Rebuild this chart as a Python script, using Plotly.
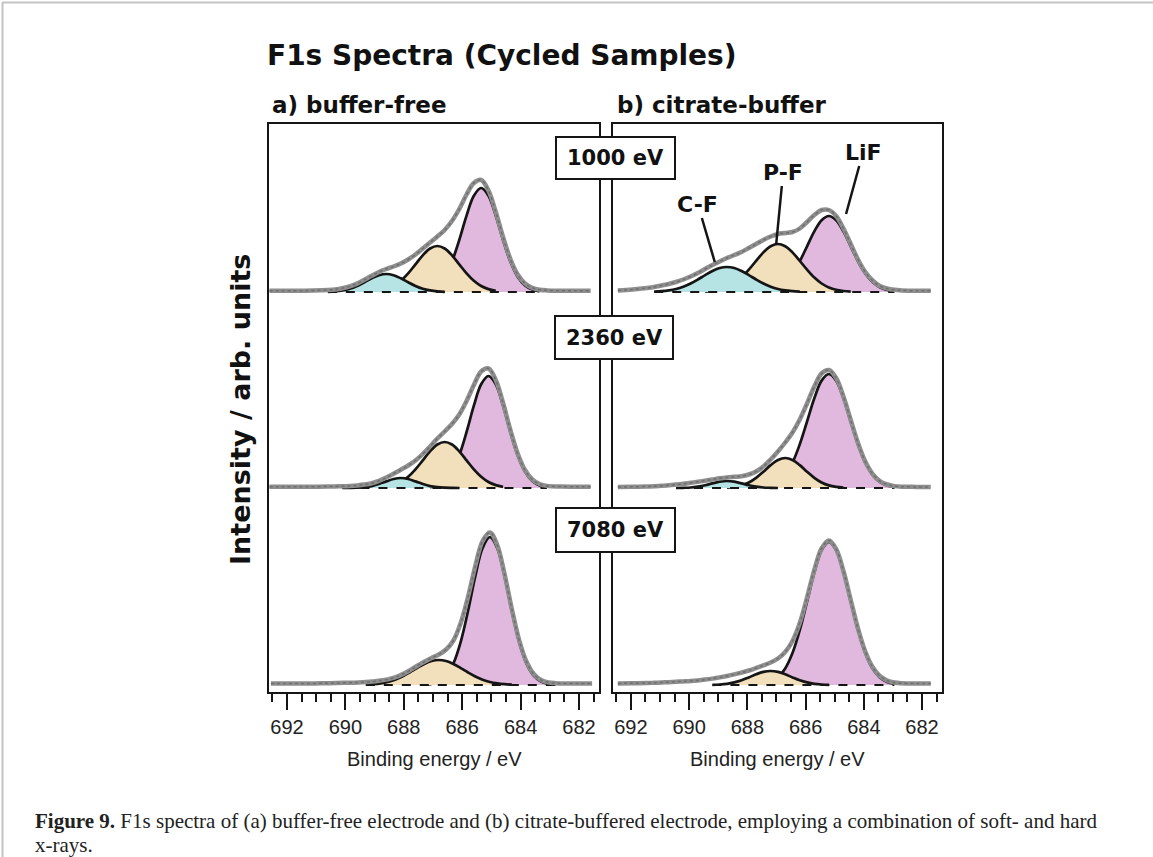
import plotly.graph_objects as go

# ---------------- data ----------------
# Binding energy grids (eV) and intensities (arb. units) for each spectrum.
# Row 1: 1000 eV, Row 2: 2360 eV, Row 3: 7080 eV ; L = buffer-free, R = citrate-buffer

# ---- buffer-free, 1000 eV
L1_CF_E = [690.6, 690.35, 690.1, 689.85, 689.6, 689.35, 689.1, 688.85, 688.6, 688.35, 688.1, 687.85, 687.6, 687.35, 687.1, 686.85, 686.6]
L1_CF_I = [0.2, 0.6, 1.6, 3.3, 6.1, 9.8, 13.7, 16.8, 18.0, 16.8, 13.7, 9.8, 6.1, 3.3, 1.6, 0.6, 0.2]
L1_PF_E = [688.85, 688.6, 688.35, 688.1, 687.85, 687.6, 687.35, 687.1, 686.85, 686.6, 686.35, 686.1, 685.85, 685.6, 685.35, 685.1, 684.85]
L1_PF_I = [1.2, 2.9, 6.0, 11.2, 18.6, 27.6, 36.7, 43.5, 46.0, 43.5, 36.7, 27.6, 18.6, 11.2, 6.0, 2.9, 1.2]
L1_LIF_E = [687.35, 687.1, 686.85, 686.6, 686.35, 686.1, 685.85, 685.6, 685.35, 685.1, 684.85, 684.6, 684.35, 684.1, 683.85, 683.6, 683.35]
L1_LIF_I = [0.7, 2.4, 6.5, 15.2, 30.4, 52.0, 76.4, 96.3, 104, 96.3, 76.4, 52.0, 30.4, 15.2, 6.5, 2.4, 0.7]
L1_DATA_E = [692.6, 692.1, 691.6, 691.1, 690.6, 690.35, 690.1, 689.85, 689.6, 689.35, 689.1, 688.85, 688.6, 688.35, 688.1,
             687.85, 687.6, 687.35, 687.1, 686.85, 686.6, 686.35, 686.1, 685.85, 685.6, 685.35, 685.1, 684.85, 684.6, 684.35,
             684.1, 683.85, 683.6, 683.35, 683.1, 682.6, 682.1, 681.6]
L1_DATA_I = [1.2, 1.2, 1.3, 1.5, 2.0, 2.6, 3.8, 5.6, 8.4, 12.2, 16.2, 20.0, 23.0, 25.5, 28.5,
             32.5, 37.5, 43.5, 49.5, 55.5, 62, 71, 83, 97.5, 109, 112, 101.5, 80, 55, 33,
             17.5, 8.5, 4.2, 2.3, 1.6, 1.3, 1.2, 1.2]

# ---- buffer-free, 2360 eV
L2_CF_E = [690.1, 689.85, 689.6, 689.35, 689.1, 688.85, 688.6, 688.35, 688.1, 687.85, 687.6, 687.35, 687.1, 686.85, 686.6, 686.35, 686.1]
L2_CF_I = [0.0, 0.1, 0.3, 0.8, 1.9, 4.0, 6.6, 9.0, 10.0, 9.0, 6.6, 4.0, 1.9, 0.8, 0.3, 0.1, 0.0]
L2_PF_E = [688.6, 688.35, 688.1, 687.85, 687.6, 687.35, 687.1, 686.85, 686.6, 686.35, 686.1, 685.85, 685.6, 685.35, 685.1, 684.85, 684.6]
L2_PF_I = [1.2, 2.9, 6.0, 11.2, 18.6, 27.6, 36.7, 43.5, 46.0, 43.5, 36.7, 27.6, 18.6, 11.2, 6.0, 2.9, 1.2]
L2_LIF_E = [687.1, 686.85, 686.6, 686.35, 686.1, 685.85, 685.6, 685.35, 685.1, 684.85, 684.6, 684.35, 684.1, 683.85, 683.6, 683.35, 683.1]
L2_LIF_I = [0.8, 2.6, 7.0, 16.4, 32.7, 56.0, 82.3, 103.7, 112, 103.7, 82.3, 56.0, 32.7, 16.4, 7.0, 2.6, 0.8]
L2_DATA_E = L1_DATA_E
L2_DATA_I = [1.2, 1.2, 1.2, 1.3, 1.5, 1.6, 1.8, 2.1, 2.6, 3.4, 4.8, 7.2, 10.4, 14.3, 18.3,
             22.5, 27.5, 34, 41.5, 49.5, 56.5, 64, 73.5, 87, 103, 116.5, 119.5, 108, 85, 58,
             34.5, 18, 8.5, 4, 2.1, 1.4, 1.2, 1.2]

# ---- buffer-free, 7080 eV
L3_PF_E = [689.3, 689.05, 688.8, 688.55, 688.3, 688.05, 687.8, 687.55, 687.3, 687.05, 686.8, 686.55, 686.3, 686.05, 685.8, 685.55, 685.3, 685.05, 684.8, 684.55, 684.3]
L3_PF_I = [0.3, 0.8, 1.6, 3.0, 5.3, 8.5, 12.5, 16.9, 21.0, 24.0, 25, 24.0, 21.0, 16.9, 12.5, 8.5, 5.3, 3.0, 1.6, 0.8, 0.3]
L3_LIF_E = [687.3, 687.05, 686.8, 686.55, 686.3, 686.05, 685.8, 685.55, 685.3, 685.05, 684.8, 684.55, 684.3, 684.05, 683.8, 683.55, 683.3, 683.05, 682.8]
L3_LIF_I = [0.3, 1.1, 3.4, 9.3, 21.6, 43.2, 74.0, 108.8, 137.0, 148, 137.0, 108.8, 74.0, 43.2, 21.6, 9.3, 3.4, 1.1, 0.3]
L3_DATA_E = [692.55, 692.05, 691.55, 691.05, 690.55, 690.05, 689.55, 689.3, 689.05, 688.8, 688.55, 688.3, 688.05, 687.8, 687.55,
             687.3, 687.05, 686.8, 686.55, 686.3, 686.05, 685.8, 685.55, 685.3, 685.05, 684.8, 684.55, 684.3, 684.05, 683.8,
             683.55, 683.3, 683.05, 682.8, 682.55, 682.05, 681.55]
L3_DATA_I = [1.5, 1.5, 1.5, 1.6, 1.8, 2.2, 2.6, 3.0, 3.6, 4.4, 5.6, 7.6, 10.6, 14.5, 19.0,
             23.2, 27.0, 30.5, 35.5, 44.5, 62, 88, 119, 144, 152.5, 140, 111, 76, 45, 23.5,
             11, 5, 2.6, 1.8, 1.5, 1.5, 1.5]

# ---- citrate-buffer, 1000 eV
R1_CF_E = [691.2, 690.95, 690.7, 690.45, 690.2, 689.95, 689.7, 689.45, 689.2, 688.95, 688.7, 688.45, 688.2, 687.95, 687.7, 687.45, 687.2, 686.95, 686.7, 686.45, 686.2]
R1_CF_I = [0.3, 0.8, 1.6, 3.0, 5.3, 8.5, 12.5, 16.9, 21.0, 24.0, 25, 24.0, 21.0, 16.9, 12.5, 8.5, 5.3, 3.0, 1.6, 0.8, 0.3]
R1_PF_E = [689.45, 689.2, 688.95, 688.7, 688.45, 688.2, 687.95, 687.7, 687.45, 687.2, 686.95, 686.7, 686.45, 686.2, 685.95, 685.7, 685.45, 685.2, 684.95, 684.7, 684.45]
R1_PF_I = [0.4, 1.0, 2.2, 4.6, 8.5, 14.4, 22.3, 31.2, 39.6, 45.7, 48, 45.7, 39.6, 31.2, 22.3, 14.4, 8.5, 4.6, 2.2, 1.0, 0.4]
R1_LIF_E = [687.45, 687.2, 686.95, 686.7, 686.45, 686.2, 685.95, 685.7, 685.45, 685.2, 684.95, 684.7, 684.45, 684.2, 683.95, 683.7, 683.45, 683.2, 682.95]
R1_LIF_I = [0.8, 2.0, 4.8, 9.9, 18.5, 30.7, 45.7, 60.6, 71.8, 76, 71.8, 60.6, 45.7, 30.7, 18.5, 9.9, 4.8, 2.0, 0.8]
R1_DATA_E = [692.45, 691.95, 691.45, 691.2, 690.95, 690.7, 690.45, 690.2, 689.95, 689.7, 689.45, 689.2, 688.95, 688.7, 688.45,
             688.2, 687.95, 687.7, 687.45, 687.2, 686.95, 686.7, 686.45, 686.2, 685.95, 685.7, 685.45, 685.2, 684.95, 684.7,
             684.45, 684.2, 683.95, 683.7, 683.45, 683.2, 682.95, 682.7, 682.2, 681.7]
R1_DATA_I = [1.5, 2.5, 4, 5, 6.5, 8, 10, 12.5, 15.5, 19, 23, 27, 30.5, 34, 37,
             40, 44, 48, 52, 55.5, 58, 59, 60, 63.5, 70, 77, 82, 82, 76, 63.5,
             48, 32.5, 20, 11.5, 6, 3.5, 2.2, 1.6, 1.2, 1.2]

# ---- citrate-buffer, 2360 eV
R2_CF_E = [690.45, 690.2, 689.95, 689.7, 689.45, 689.2, 688.95, 688.7, 688.45, 688.2, 687.95, 687.7, 687.45, 687.2, 686.95]
R2_CF_I = [0.0, 0.2, 0.5, 1.4, 2.8, 4.6, 6.3, 7, 6.3, 4.6, 2.8, 1.4, 0.5, 0.2, 0.0]
R2_PF_E = [688.7, 688.45, 688.2, 687.95, 687.7, 687.45, 687.2, 686.95, 686.7, 686.45, 686.2, 685.95, 685.7, 685.45, 685.2, 684.95, 684.7]
R2_PF_I = [0.4, 1.1, 2.6, 5.5, 10.2, 16.3, 22.9, 28.0, 30, 28.0, 22.9, 16.3, 10.2, 5.5, 2.6, 1.1, 0.4]
R2_LIF_E = R1_LIF_E
R2_LIF_I = [0.9, 2.5, 6.0, 13.2, 25.4, 43.7, 66.5, 89.7, 107.4, 114, 107.4, 89.7, 66.5, 43.7, 25.4, 13.2, 6.0, 2.5, 0.9]
R2_DATA_E = R1_DATA_E
R2_DATA_I = [1, 1.2, 1.5, 1.8, 2.2, 2.8, 3.4, 4.2, 5.2, 6.2, 7.3, 8.5, 9.7, 10.6, 11.2,
             11.8, 13.5, 16.5, 21.5, 28.5, 36.5, 45.5, 55.5, 68.5, 84.5, 101.5, 114.5, 118, 110, 91.5,
             68, 45, 26.5, 14.2, 7, 3.5, 1.9, 1.3, 1.1, 1]

# ---- citrate-buffer, 7080 eV
R3_PF_E = [689.2, 688.95, 688.7, 688.45, 688.2, 687.95, 687.7, 687.45, 687.2, 686.95, 686.7, 686.45, 686.2, 685.95, 685.7, 685.45, 685.2]
R3_PF_I = [0.2, 0.5, 1.2, 2.6, 4.7, 7.6, 10.7, 13.1, 14, 13.1, 10.7, 7.6, 4.7, 2.6, 1.2, 0.5, 0.2]
R3_LIF_E = R1_LIF_E
R3_LIF_I = [1.1, 3.1, 7.6, 16.5, 31.9, 54.8, 83.4, 112.5, 134.7, 143, 134.7, 112.5, 83.4, 54.8, 31.9, 16.5, 7.6, 3.1, 1.1]
R3_DATA_E = R1_DATA_E
R3_DATA_I = [1.5, 1.8, 2.0, 2.2, 2.5, 2.8, 3.2, 3.6, 4.0, 4.6, 5.4, 6.4, 7.6, 9.0, 10.6,
             12.4, 14.5, 17, 19.6, 22.5, 26.5, 33, 44, 62, 87.5, 115, 136.5, 144.5, 136, 114,
             85, 56.5, 33.5, 18, 9, 4.5, 2.5, 1.8, 1.5, 1.5]

PHOTON_ENERGIES = ["1000 eV", "2360 eV", "7080 eV"]
PANEL_TITLES = ["a) buffer-free", "b) citrate-buffer"]
PEAK_LABELS = ["C-F", "P-F", "LiF"]
X_TICKS = [692, 690, 688, 686, 684, 682]
CAPTION_LINES = ["<b>Figure 9.</b> F1s spectra of (a) buffer-free electrode and (b) citrate-buffered electrode, "
                 "employing a combination of soft- and hard", "x-rays."]

# ---------------- layout helpers ----------------
W, H = 1153, 857
def xp(px): return px / W
def yp(py): return 1 - py / H

ROWS_PX = [(123, 300), (300, 496), (496, 693)]
COLS_PX = [(268, 600), (612, 943)]
X_RANGE = [692.65, 681.28]
BASE_OFF = 8

COL_LIF = "#e2b9de"
COL_PF = "#f2dfbc"
COL_CF = "#b6e3e3"
INK = "#151515"
GREY = "#8e8e8e"

panels = {
    (0, 0): dict(data=(L1_DATA_E, L1_DATA_I), comps=[(L1_LIF_E, L1_LIF_I, COL_LIF), (L1_PF_E, L1_PF_I, COL_PF), (L1_CF_E, L1_CF_I, COL_CF)]),
    (1, 0): dict(data=(L2_DATA_E, L2_DATA_I), comps=[(L2_LIF_E, L2_LIF_I, COL_LIF), (L2_PF_E, L2_PF_I, COL_PF), (L2_CF_E, L2_CF_I, COL_CF)]),
    (2, 0): dict(data=(L3_DATA_E, L3_DATA_I), comps=[(L3_LIF_E, L3_LIF_I, COL_LIF), (L3_PF_E, L3_PF_I, COL_PF)]),
    (0, 1): dict(data=(R1_DATA_E, R1_DATA_I), comps=[(R1_LIF_E, R1_LIF_I, COL_LIF), (R1_PF_E, R1_PF_I, COL_PF), (R1_CF_E, R1_CF_I, COL_CF)]),
    (1, 1): dict(data=(R2_DATA_E, R2_DATA_I), comps=[(R2_LIF_E, R2_LIF_I, COL_LIF), (R2_PF_E, R2_PF_I, COL_PF), (R2_CF_E, R2_CF_I, COL_CF)]),
    (2, 1): dict(data=(R3_DATA_E, R3_DATA_I), comps=[(R3_LIF_E, R3_LIF_I, COL_LIF), (R3_PF_E, R3_PF_I, COL_PF)]),
}

fig = go.Figure()
layout = {}
for (r, c), p in panels.items():
    idx = r * 2 + c + 1
    xa = "x" if idx == 1 else f"x{idx}"
    ya = "y" if idx == 1 else f"y{idx}"
    for E, I, col in p["comps"]:
        fig.add_trace(go.Scatter(x=E, y=I, mode="lines", fill="tozeroy", fillcolor=col,
                                 line=dict(color=INK, width=2.7, shape="spline", smoothing=1),
                                 xaxis=xa, yaxis=ya, hoverinfo="skip", showlegend=False))
    allE = [e for E, I, col in p["comps"] for e in E]
    fig.add_trace(go.Scatter(x=[max(allE), min(allE)], y=[0, 0], mode="lines",
                             line=dict(color=INK, width=2, dash="dash"),
                             xaxis=xa, yaxis=ya, hoverinfo="skip", showlegend=False))
    dE, dI = p["data"]
    fig.add_trace(go.Scatter(x=dE, y=dI, mode="lines",
                             line=dict(color=GREY, width=4.5, shape="spline", smoothing=1),
                             xaxis=xa, yaxis=ya, hoverinfo="skip", showlegend=False))
    fig.add_trace(go.Scatter(x=dE, y=dI, mode="lines",
                             line=dict(color="#6f6f6f", width=1.5, shape="spline", smoothing=1, dash="dot"),
                             xaxis=xa, yaxis=ya, hoverinfo="skip", showlegend=False))

    y0, y1 = ROWS_PX[r]
    x0, x1 = COLS_PX[c]
    hgt = y1 - y0
    key_x = "xaxis" if idx == 1 else f"xaxis{idx}"
    key_y = "yaxis" if idx == 1 else f"yaxis{idx}"
    xdict = dict(domain=[xp(x0), xp(x1)], range=X_RANGE, anchor=ya, showgrid=False,
                 zeroline=False, showline=False, fixedrange=True)
    if r == 2:
        xdict.update(ticks="outside", ticklen=16, tickwidth=2, tickcolor=INK,
                     tickvals=X_TICKS, ticktext=[str(t) for t in X_TICKS],
                     tickfont=dict(family="Liberation Sans, Arial, sans-serif", size=20, color="#222"),
                     minor=dict(ticks="outside", ticklen=8, tickwidth=2, tickcolor=INK, dtick=0.5, tick0=682))
    else:
        xdict.update(showticklabels=False, ticks="")
    layout[key_x] = xdict
    layout[key_y] = dict(domain=[yp(y1), yp(y0)], range=[-BASE_OFF, hgt - BASE_OFF], anchor=xa,
                         visible=False, fixedrange=True)

fig.update_layout(**layout)

shapes = []
# outer page border (grey)
shapes.append(dict(type="line", xref="paper", yref="paper", x0=xp(2), x1=1, y0=yp(2.5), y1=yp(2.5),
                   line=dict(color="#c4c4c4", width=2)))
shapes.append(dict(type="line", xref="paper", yref="paper", x0=xp(2.5), x1=xp(2.5), y0=yp(2), y1=0,
                   line=dict(color="#c4c4c4", width=2)))
# panel frames
for x0, x1 in COLS_PX:
    shapes.append(dict(type="rect", xref="paper", yref="paper", x0=xp(x0), x1=xp(x1),
                       y0=yp(ROWS_PX[2][1]), y1=yp(ROWS_PX[0][0]),
                       line=dict(color=INK, width=2), fillcolor="rgba(0,0,0,0)", layer="above"))
# photon energy label boxes
BOX_PX = [(556, 675, 137, 179), (555, 673, 316, 359), (556, 675, 508, 552)]
annotations = []
for (bx0, bx1, by0, by1), lab in zip(BOX_PX, PHOTON_ENERGIES):
    shapes.append(dict(type="rect", xref="paper", yref="paper", x0=xp(bx0), x1=xp(bx1), y0=yp(by1), y1=yp(by0),
                       line=dict(color=INK, width=2), fillcolor="white", layer="above"))
    annotations.append(dict(text=f"<b>{lab}</b>", xref="paper", yref="paper", x=xp((bx0 + bx1) / 2),
                            y=yp((by0 + by1) / 2), showarrow=False, xanchor="center", yanchor="middle",
                            font=dict(family="DejaVu Sans", size=21, color="#111")))

BOLD = "DejaVu Sans"
annotations += [
    dict(text="<b>F1s Spectra (Cycled Samples)</b>", xref="paper", yref="paper", x=xp(265), y=yp(56),
         xanchor="left", yanchor="middle", showarrow=False, font=dict(family=BOLD, size=28, color="#111")),
    dict(text=f"<b>{PANEL_TITLES[0]}</b>", xref="paper", yref="paper", x=xp(270), y=yp(105),
         xanchor="left", yanchor="middle", showarrow=False, font=dict(family=BOLD, size=23, color="#111")),
    dict(text=f"<b>{PANEL_TITLES[1]}</b>", xref="paper", yref="paper", x=xp(615), y=yp(105),
         xanchor="left", yanchor="middle", showarrow=False, font=dict(family=BOLD, size=23, color="#111")),
    dict(text="<b>Intensity / arb. units</b>", xref="paper", yref="paper", x=xp(241), y=yp(410),
         xanchor="center", yanchor="middle", textangle=-90, showarrow=False,
         font=dict(family=BOLD, size=27, color="#111")),
    dict(text="Binding energy / eV", xref="paper", yref="paper", x=xp(434), y=yp(759),
         xanchor="center", yanchor="middle", showarrow=False,
         font=dict(family="Liberation Sans, Arial, sans-serif", size=20, color="#222")),
    dict(text="Binding energy / eV", xref="paper", yref="paper", x=xp(777), y=yp(759),
         xanchor="center", yanchor="middle", showarrow=False,
         font=dict(family="Liberation Sans, Arial, sans-serif", size=20, color="#222")),
]
for line_txt, cy in zip(CAPTION_LINES, [821, 845]):
    annotations.append(dict(text=line_txt, xref="paper", yref="paper", x=xp(33), y=yp(cy),
                            xanchor="left", yanchor="middle", align="left", showarrow=False,
                            font=dict(family="Liberation Serif, Times New Roman, serif", size=21, color="#222")))
# peak labels with leader lines (citrate-buffer, 1000 eV panel -> axes x2/y2)
LEADER = [(689.12, 30, -17, -58), (687.01, 48, 7, -72), (684.61, 78, 17, -62)]
for lab, (ex, ey, ax, ay) in zip(PEAK_LABELS, LEADER):
    annotations.append(dict(text=f"<b>{lab}</b>", xref="x2", yref="y2", x=ex, y=ey, ax=ax, ay=ay,
                            showarrow=True, arrowhead=0, arrowwidth=2.5, arrowcolor=INK, standoff=0,
                            font=dict(family=BOLD, size=22, color="#111")))

fig.update_layout(width=W, height=H, margin=dict(l=0, r=0, t=0, b=0), paper_bgcolor="white",
                  plot_bgcolor="rgba(0,0,0,0)", shapes=shapes, annotations=annotations, showlegend=False)
fig.write_html("out.html")
